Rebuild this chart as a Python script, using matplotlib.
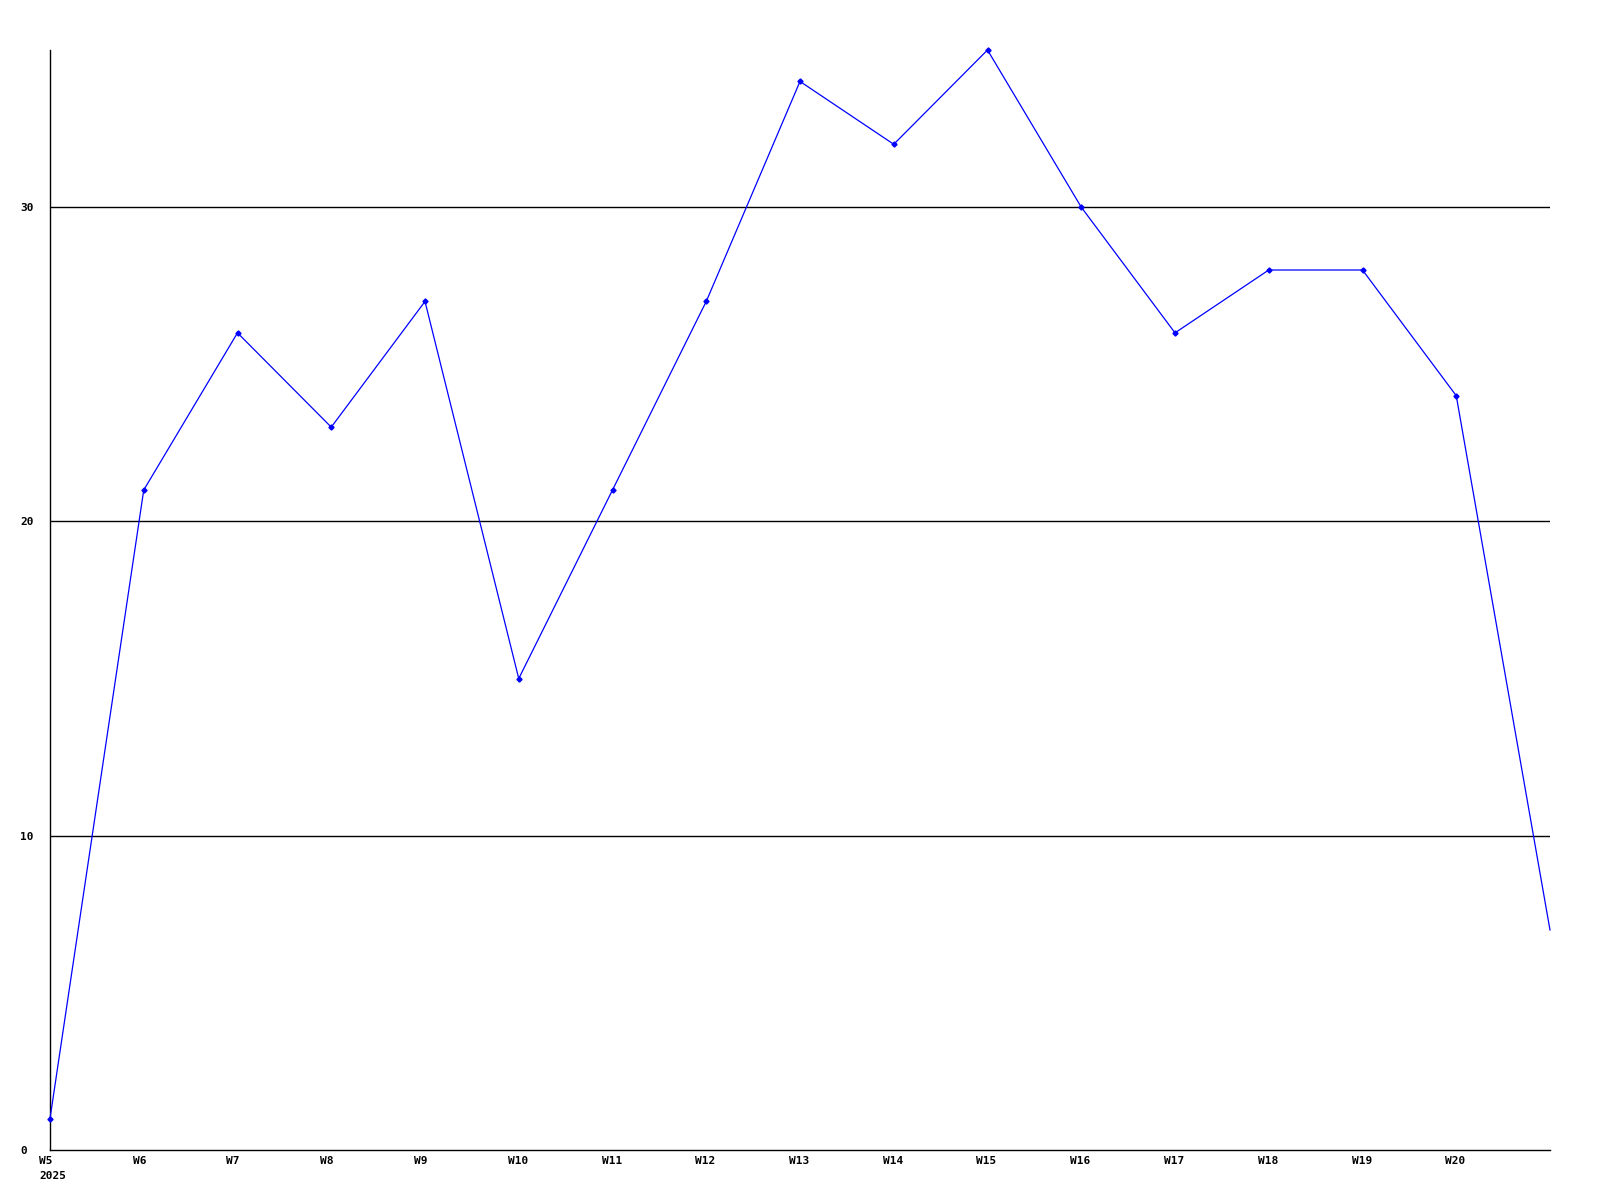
import matplotlib
matplotlib.use("Agg")
import matplotlib.pyplot as plt
import matplotlib.transforms as mtransforms

weeks = ["W5", "W6", "W7", "W8", "W9", "W10", "W11", "W12", "W13", "W14",
         "W15", "W16", "W17", "W18", "W19", "W20", "W21"]
counts = [1, 21, 26, 23, 27, 15, 21, 27, 34, 32, 35, 30, 26, 28, 28, 24, 7]
yticks = [0, 10, 20, 30]

plt.rcParams['font.family'] = ['DejaVu Sans Mono']

fig = plt.figure(figsize=(16, 12), dpi=100)
ax = fig.add_axes([50/1600, 50/1200, 1500/1600, 1100/1200])

xs = list(range(len(counts)))
ax.plot(xs, counts, color='#0000ff', lw=0.9, marker='D', ms=2.6,
        markevery=list(range(len(counts)-1)), zorder=3, clip_on=False)

for v in yticks[1:]:
    ax.axhline(v, color='black', lw=1.0, zorder=1)

ax.set_xlim(0, len(counts)-1)
ax.set_ylim(0, 35)

# x labels drawn by hand, shifted left of the tick like the original
ax.set_xticks([])
off = mtransforms.ScaledTranslation(-11/100, -6/100, fig.dpi_scale_trans)
tr = ax.get_xaxis_transform() + off
labels = weeks[:-1]
labels[0] = "W5\n2025"
for x, lab in zip(xs[:-1], labels):
    ax.text(x, 0, lab, transform=tr, fontsize=8, fontweight='bold',
            ha='left', va='top', linespacing=1.6, clip_on=False)

ax.set_yticks(yticks)
ax.set_yticklabels([str(v) for v in yticks], fontsize=8, fontweight='bold',
                   ha='left')
ax.tick_params(axis='y', length=0, pad=21.6)

for s in ['top', 'right']:
    ax.spines[s].set_visible(False)
for s in ['left', 'bottom']:
    ax.spines[s].set_linewidth(1.0)
    ax.spines[s].set_color('black')

fig.savefig("out.png", dpi=100)
